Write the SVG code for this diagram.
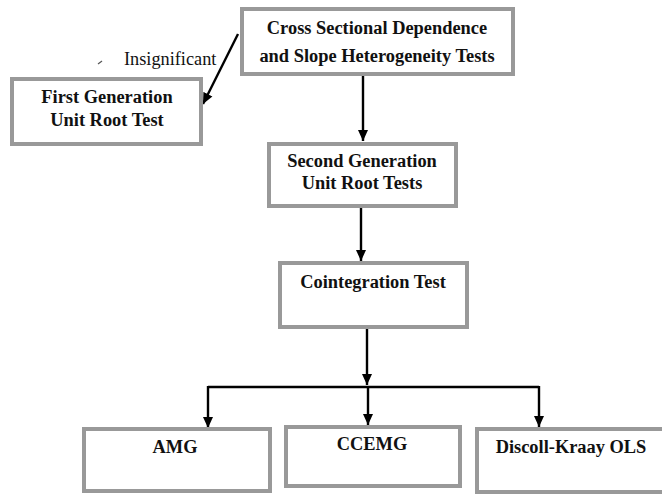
<svg xmlns="http://www.w3.org/2000/svg" width="662" height="496" viewBox="0 0 662 496">
  <style>
    .box { fill: #ffffff; stroke: #999999; stroke-width: 4; }
    .t { font-family: "Liberation Serif", "Times New Roman", serif; font-weight: bold; font-size: 18.4px; fill: #111111; text-anchor: middle; }
    .lbl { font-family: "Liberation Serif", "Times New Roman", serif; font-size: 18.3px; fill: #111111; }
    .c { fill: none; stroke: #000000; stroke-width: 2.4; }
  </style>
  <defs>
    <marker id="arr" markerUnits="userSpaceOnUse" markerWidth="12" markerHeight="12" viewBox="0 0 12 12" refX="11" refY="6" orient="auto">
      <path d="M0,1 L11,6 L0,11 Z" fill="#000000"/>
    </marker>
  </defs>
  <rect width="662" height="496" fill="#ffffff"/>

  <g id="connectors">
    <line class="c" x1="238" y1="34" x2="203" y2="104" marker-end="url(#arr)"/>
    <line class="c" x1="363" y1="76" x2="363" y2="141" marker-end="url(#arr)"/>
    <line class="c" x1="361" y1="208" x2="361" y2="261" marker-end="url(#arr)"/>
    <line class="c" x1="367" y1="329" x2="367" y2="385" marker-end="url(#arr)"/>
    <polyline class="c" points="208,387 539,387"/>
    <line class="c" x1="208" y1="386" x2="208" y2="428" marker-end="url(#arr)"/>
    <line class="c" x1="368" y1="387" x2="368" y2="425" marker-end="url(#arr)"/>
    <line class="c" x1="539" y1="386" x2="539" y2="427" marker-end="url(#arr)"/>
    <line x1="98" y1="64" x2="102" y2="61" stroke="#555555" stroke-width="1.2"/>
    <text class="lbl" x="124" y="65">Insignificant</text>
  </g>

  <g id="node-csd">
    <rect class="box" x="242" y="9" width="271" height="65"/>
    <text class="t" x="377" y="34">Cross Sectional Dependence</text>
    <text class="t" x="377" y="62">and Slope Heterogeneity Tests</text>
  </g>

  <g id="node-first">
    <rect class="box" x="12" y="79" width="189" height="65"/>
    <text class="t" x="107" y="103">First Generation</text>
    <text class="t" x="107" y="126">Unit Root Test</text>
  </g>

  <g id="node-second">
    <rect class="box" x="269" y="144" width="187" height="62"/>
    <text class="t" x="362" y="167">Second Generation</text>
    <text class="t" x="362" y="189">Unit Root Tests</text>
  </g>

  <g id="node-coint">
    <rect class="box" x="280" y="263" width="187" height="64"/>
    <text class="t" x="373" y="288">Cointegration Test</text>
  </g>

  <g id="node-amg">
    <rect class="box" x="84" y="429" width="186" height="62"/>
    <text class="t" x="175" y="453">AMG</text>
  </g>

  <g id="node-ccemg">
    <rect class="box" x="286" y="427" width="174" height="59"/>
    <text class="t" x="372" y="450">CCEMG</text>
  </g>

  <g id="node-dk">
    <rect class="box" x="477" y="429" width="190" height="63"/>
    <text class="t" x="571" y="453">Discoll-Kraay OLS</text>
  </g>
</svg>
